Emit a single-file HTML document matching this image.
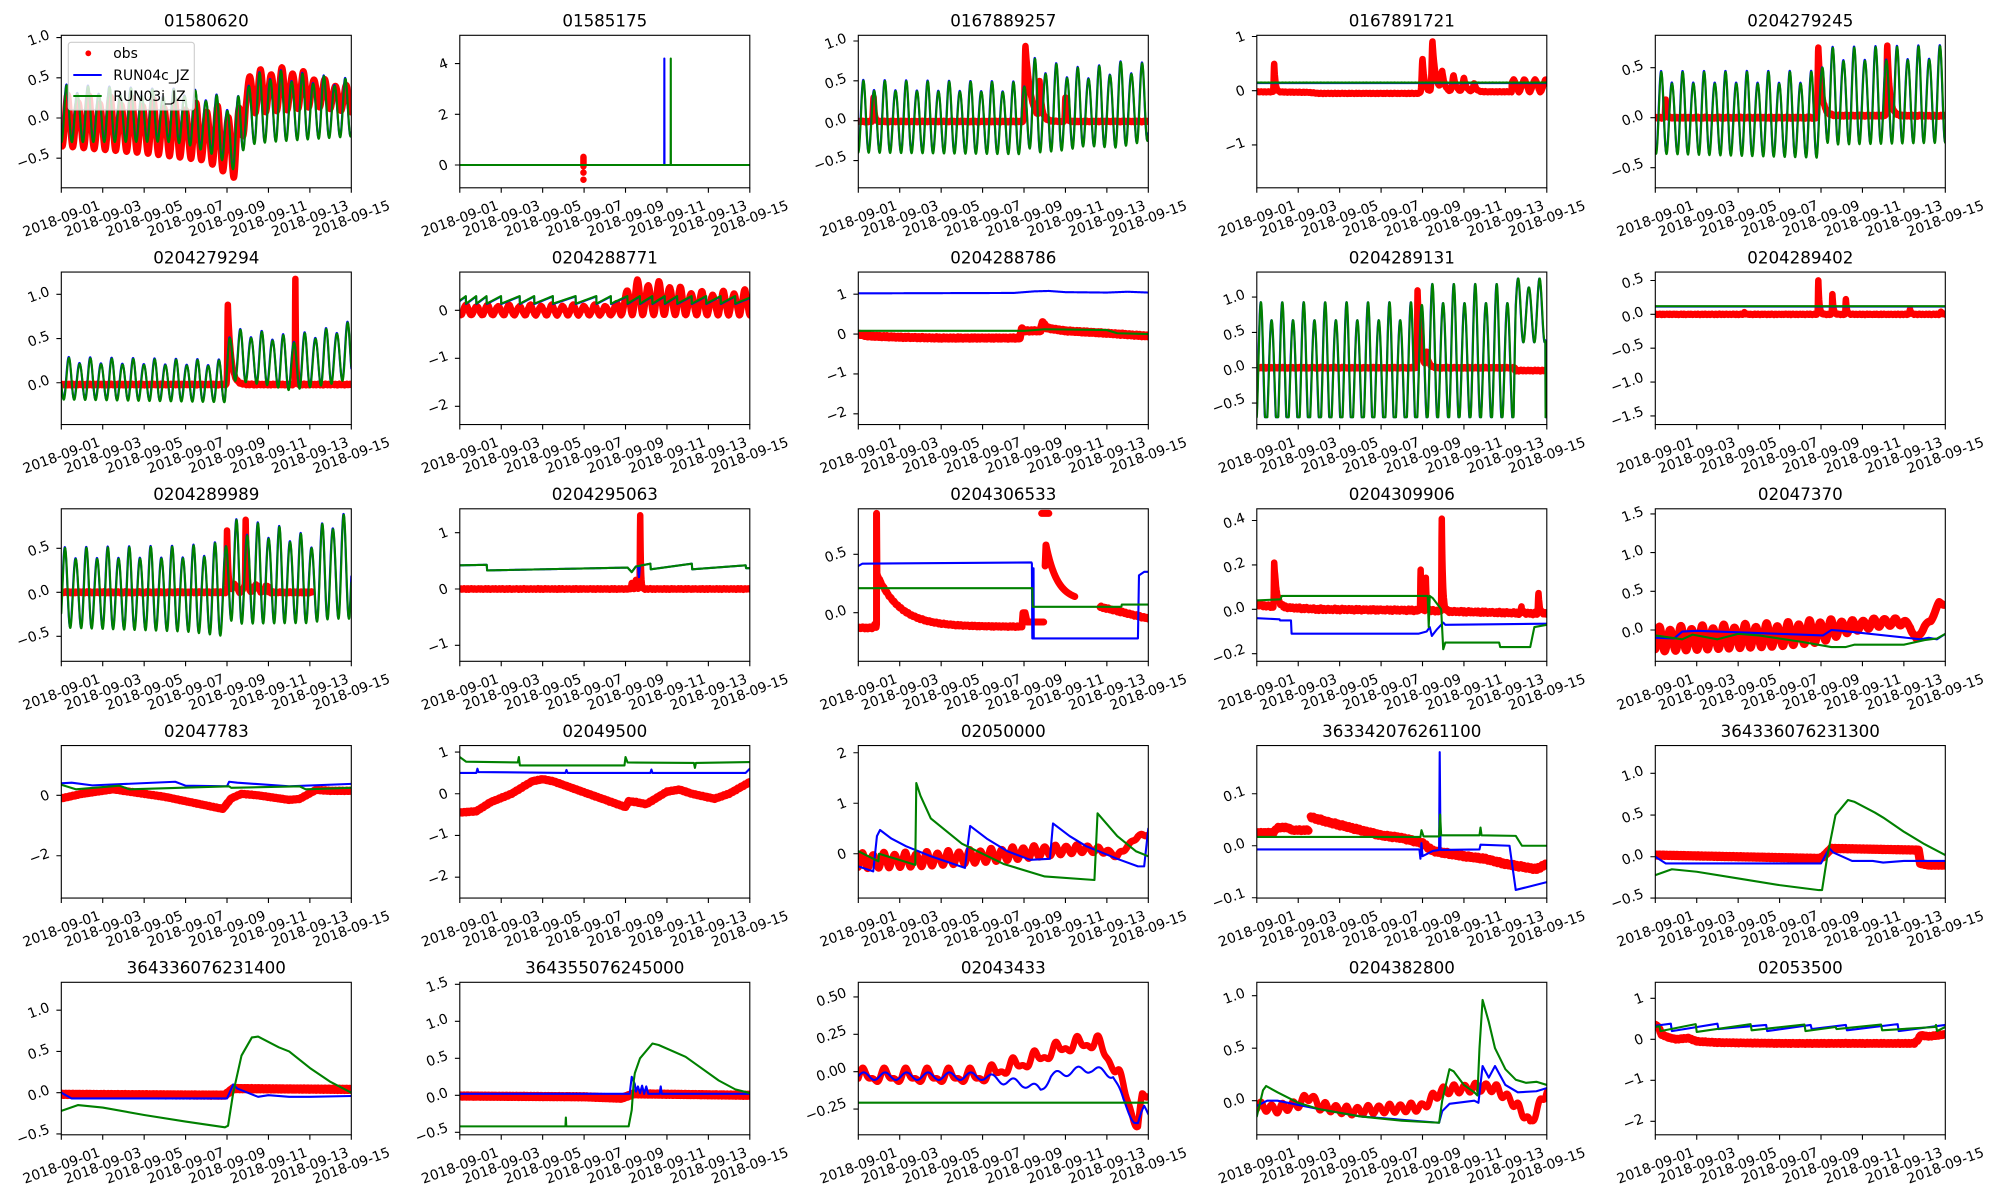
<!DOCTYPE html>
<html><head><meta charset="utf-8">
<style>
body{margin:0;background:#fff}
svg{display:block}
text{font-family:"DejaVu Sans","Liberation Sans",sans-serif;font-size:13.9px;fill:#000}
.xl text{text-anchor:middle}
.yl text{text-anchor:end}
text.ti{font-size:16.7px;text-anchor:middle}
.sp{fill:none;stroke:#000;stroke-width:1.1}
.tk{stroke:#000;stroke-width:1.1;fill:none}
</style></head><body>
<svg xmlns="http://www.w3.org/2000/svg" width="2000" height="1200" viewBox="0 0 2000 1200">
<defs><clipPath id="c"><rect x="0" y="0" width="290" height="152.5"/></clipPath></defs>
<rect width="2000" height="1200" fill="#fff"/>

<!-- Row 1 -->
<g transform="translate(61.3,35.3)"><g clip-path="url(#c)" id="d1"></g><rect class="sp" width="290" height="152.5"/><path class="tk" d="M0,152.5v4.9M41.43,152.5v4.9M82.86,152.5v4.9M124.29,152.5v4.9M165.71,152.5v4.9M207.14,152.5v4.9M248.57,152.5v4.9M290,152.5v4.9M0,2.3h-4.9M0,42.5h-4.9M0,82.7h-4.9M0,122.9h-4.9"/><g class="xl"><text transform="translate(0,183) rotate(-20)" y="4.9">2018-09-01</text><text transform="translate(41.43,183) rotate(-20)" y="4.9">2018-09-03</text><text transform="translate(82.86,183) rotate(-20)" y="4.9">2018-09-05</text><text transform="translate(124.29,183) rotate(-20)" y="4.9">2018-09-07</text><text transform="translate(165.71,183) rotate(-20)" y="4.9">2018-09-09</text><text transform="translate(207.14,183) rotate(-20)" y="4.9">2018-09-11</text><text transform="translate(248.57,183) rotate(-20)" y="4.9">2018-09-13</text><text transform="translate(290,183) rotate(-20)" y="4.9">2018-09-15</text></g><g class="yl"><text transform="translate(-10.8,3.2) rotate(-20)">1.0</text><text transform="translate(-10.8,43.4) rotate(-20)">0.5</text><text transform="translate(-10.8,83.6) rotate(-20)">0.0</text><text transform="translate(-10.8,121.8) rotate(-20)">−0.5</text></g><text class="ti" x="145" y="-8.6">01580620</text>
<g><rect x="7" y="7" width="126" height="67.7" rx="2.8" fill="#fff" fill-opacity="0.8" stroke="#cccccc" stroke-width="1.1"/><circle cx="27" cy="18" r="2.9" fill="#ff0000"/><text x="52" y="22.9">obs</text><path d="M12,39.7h28.4" stroke="#0000ff" stroke-width="2.1"/><text x="52" y="44.6">RUN04c_JZ</text><path d="M12,60.7h28.4" stroke="#008000" stroke-width="2.1"/><text x="52" y="65.6">RUN03i_JZ</text></g></g>

<g transform="translate(459.8,35.3)"><g clip-path="url(#c)" id="d2"></g><rect class="sp" width="290" height="152.5"/><path class="tk" d="M0,152.5v4.9M41.43,152.5v4.9M82.86,152.5v4.9M124.29,152.5v4.9M165.71,152.5v4.9M207.14,152.5v4.9M248.57,152.5v4.9M290,152.5v4.9M0,28.3h-4.9M0,79h-4.9M0,129.7h-4.9"/><g class="xl"><text transform="translate(0,183) rotate(-20)" y="4.9">2018-09-01</text><text transform="translate(41.43,183) rotate(-20)" y="4.9">2018-09-03</text><text transform="translate(82.86,183) rotate(-20)" y="4.9">2018-09-05</text><text transform="translate(124.29,183) rotate(-20)" y="4.9">2018-09-07</text><text transform="translate(165.71,183) rotate(-20)" y="4.9">2018-09-09</text><text transform="translate(207.14,183) rotate(-20)" y="4.9">2018-09-11</text><text transform="translate(248.57,183) rotate(-20)" y="4.9">2018-09-13</text><text transform="translate(290,183) rotate(-20)" y="4.9">2018-09-15</text></g><g class="yl"><text transform="translate(-10.8,31.5) rotate(-20)">4</text><text transform="translate(-10.8,82.2) rotate(-20)">2</text><text transform="translate(-10.8,132.9) rotate(-20)">0</text></g><text class="ti" x="145" y="-8.6">01585175</text></g>

<g transform="translate(858.3,35.3)"><g clip-path="url(#c)" id="d3"></g><rect class="sp" width="290" height="152.5"/><path class="tk" d="M0,152.5v4.9M41.43,152.5v4.9M82.86,152.5v4.9M124.29,152.5v4.9M165.71,152.5v4.9M207.14,152.5v4.9M248.57,152.5v4.9M290,152.5v4.9M0,5.7h-4.9M0,45.55h-4.9M0,85.4h-4.9M0,125.25h-4.9"/><g class="xl"><text transform="translate(0,183) rotate(-20)" y="4.9">2018-09-01</text><text transform="translate(41.43,183) rotate(-20)" y="4.9">2018-09-03</text><text transform="translate(82.86,183) rotate(-20)" y="4.9">2018-09-05</text><text transform="translate(124.29,183) rotate(-20)" y="4.9">2018-09-07</text><text transform="translate(165.71,183) rotate(-20)" y="4.9">2018-09-09</text><text transform="translate(207.14,183) rotate(-20)" y="4.9">2018-09-11</text><text transform="translate(248.57,183) rotate(-20)" y="4.9">2018-09-13</text><text transform="translate(290,183) rotate(-20)" y="4.9">2018-09-15</text></g><g class="yl"><text transform="translate(-10.8,6.6) rotate(-20)">1.0</text><text transform="translate(-10.8,46.45) rotate(-20)">0.5</text><text transform="translate(-10.8,86.3) rotate(-20)">0.0</text><text transform="translate(-10.8,124.15) rotate(-20)">−0.5</text></g><text class="ti" x="145" y="-8.6">0167889257</text></g>

<g transform="translate(1256.8,35.3)"><g clip-path="url(#c)" id="d4"></g><rect class="sp" width="290" height="152.5"/><path class="tk" d="M0,152.5v4.9M41.43,152.5v4.9M82.86,152.5v4.9M124.29,152.5v4.9M165.71,152.5v4.9M207.14,152.5v4.9M248.57,152.5v4.9M290,152.5v4.9M0,1.2h-4.9M0,55.4h-4.9M0,109.6h-4.9"/><g class="xl"><text transform="translate(0,183) rotate(-20)" y="4.9">2018-09-01</text><text transform="translate(41.43,183) rotate(-20)" y="4.9">2018-09-03</text><text transform="translate(82.86,183) rotate(-20)" y="4.9">2018-09-05</text><text transform="translate(124.29,183) rotate(-20)" y="4.9">2018-09-07</text><text transform="translate(165.71,183) rotate(-20)" y="4.9">2018-09-09</text><text transform="translate(207.14,183) rotate(-20)" y="4.9">2018-09-11</text><text transform="translate(248.57,183) rotate(-20)" y="4.9">2018-09-13</text><text transform="translate(290,183) rotate(-20)" y="4.9">2018-09-15</text></g><g class="yl"><text transform="translate(-10.8,4.4) rotate(-20)">1</text><text transform="translate(-10.8,58.6) rotate(-20)">0</text><text transform="translate(-10.8,110.8) rotate(-20)">−1</text></g><text class="ti" x="145" y="-8.6">0167891721</text></g>

<g transform="translate(1655.3,35.3)"><g clip-path="url(#c)" id="d5"></g><rect class="sp" width="290" height="152.5"/><path class="tk" d="M0,152.5v4.9M41.43,152.5v4.9M82.86,152.5v4.9M124.29,152.5v4.9M165.71,152.5v4.9M207.14,152.5v4.9M248.57,152.5v4.9M290,152.5v4.9M0,32.4h-4.9M0,82.4h-4.9M0,132.4h-4.9"/><g class="xl"><text transform="translate(0,183) rotate(-20)" y="4.9">2018-09-01</text><text transform="translate(41.43,183) rotate(-20)" y="4.9">2018-09-03</text><text transform="translate(82.86,183) rotate(-20)" y="4.9">2018-09-05</text><text transform="translate(124.29,183) rotate(-20)" y="4.9">2018-09-07</text><text transform="translate(165.71,183) rotate(-20)" y="4.9">2018-09-09</text><text transform="translate(207.14,183) rotate(-20)" y="4.9">2018-09-11</text><text transform="translate(248.57,183) rotate(-20)" y="4.9">2018-09-13</text><text transform="translate(290,183) rotate(-20)" y="4.9">2018-09-15</text></g><g class="yl"><text transform="translate(-10.8,33.3) rotate(-20)">0.5</text><text transform="translate(-10.8,83.3) rotate(-20)">0.0</text><text transform="translate(-10.8,131.3) rotate(-20)">−0.5</text></g><text class="ti" x="145" y="-8.6">0204279245</text></g>

<!-- Row 2 -->
<g transform="translate(61.3,272.05)"><g clip-path="url(#c)" id="d6"></g><rect class="sp" width="290" height="152.5"/><path class="tk" d="M0,152.5v4.9M41.43,152.5v4.9M82.86,152.5v4.9M124.29,152.5v4.9M165.71,152.5v4.9M207.14,152.5v4.9M248.57,152.5v4.9M290,152.5v4.9M0,22.3h-4.9M0,66.5h-4.9M0,110.7h-4.9"/><g class="xl"><text transform="translate(0,183) rotate(-20)" y="4.9">2018-09-01</text><text transform="translate(41.43,183) rotate(-20)" y="4.9">2018-09-03</text><text transform="translate(82.86,183) rotate(-20)" y="4.9">2018-09-05</text><text transform="translate(124.29,183) rotate(-20)" y="4.9">2018-09-07</text><text transform="translate(165.71,183) rotate(-20)" y="4.9">2018-09-09</text><text transform="translate(207.14,183) rotate(-20)" y="4.9">2018-09-11</text><text transform="translate(248.57,183) rotate(-20)" y="4.9">2018-09-13</text><text transform="translate(290,183) rotate(-20)" y="4.9">2018-09-15</text></g><g class="yl"><text transform="translate(-10.8,23.2) rotate(-20)">1.0</text><text transform="translate(-10.8,67.4) rotate(-20)">0.5</text><text transform="translate(-10.8,111.6) rotate(-20)">0.0</text></g><text class="ti" x="145" y="-8.6">0204279294</text></g>

<g transform="translate(459.8,272.05)"><g clip-path="url(#c)" id="d7"></g><rect class="sp" width="290" height="152.5"/><path class="tk" d="M0,152.5v4.9M41.43,152.5v4.9M82.86,152.5v4.9M124.29,152.5v4.9M165.71,152.5v4.9M207.14,152.5v4.9M248.57,152.5v4.9M290,152.5v4.9M0,38.3h-4.9M0,86.3h-4.9M0,134.3h-4.9"/><g class="xl"><text transform="translate(0,183) rotate(-20)" y="4.9">2018-09-01</text><text transform="translate(41.43,183) rotate(-20)" y="4.9">2018-09-03</text><text transform="translate(82.86,183) rotate(-20)" y="4.9">2018-09-05</text><text transform="translate(124.29,183) rotate(-20)" y="4.9">2018-09-07</text><text transform="translate(165.71,183) rotate(-20)" y="4.9">2018-09-09</text><text transform="translate(207.14,183) rotate(-20)" y="4.9">2018-09-11</text><text transform="translate(248.57,183) rotate(-20)" y="4.9">2018-09-13</text><text transform="translate(290,183) rotate(-20)" y="4.9">2018-09-15</text></g><g class="yl"><text transform="translate(-10.8,41.5) rotate(-20)">0</text><text transform="translate(-10.8,87.5) rotate(-20)">−1</text><text transform="translate(-10.8,135.5) rotate(-20)">−2</text></g><text class="ti" x="145" y="-8.6">0204288771</text></g>

<g transform="translate(858.3,272.05)"><g clip-path="url(#c)" id="d8"></g><rect class="sp" width="290" height="152.5"/><path class="tk" d="M0,152.5v4.9M41.43,152.5v4.9M82.86,152.5v4.9M124.29,152.5v4.9M165.71,152.5v4.9M207.14,152.5v4.9M248.57,152.5v4.9M290,152.5v4.9M0,22.1h-4.9M0,62h-4.9M0,101.9h-4.9M0,141.8h-4.9"/><g class="xl"><text transform="translate(0,183) rotate(-20)" y="4.9">2018-09-01</text><text transform="translate(41.43,183) rotate(-20)" y="4.9">2018-09-03</text><text transform="translate(82.86,183) rotate(-20)" y="4.9">2018-09-05</text><text transform="translate(124.29,183) rotate(-20)" y="4.9">2018-09-07</text><text transform="translate(165.71,183) rotate(-20)" y="4.9">2018-09-09</text><text transform="translate(207.14,183) rotate(-20)" y="4.9">2018-09-11</text><text transform="translate(248.57,183) rotate(-20)" y="4.9">2018-09-13</text><text transform="translate(290,183) rotate(-20)" y="4.9">2018-09-15</text></g><g class="yl"><text transform="translate(-10.8,25.3) rotate(-20)">1</text><text transform="translate(-10.8,65.2) rotate(-20)">0</text><text transform="translate(-10.8,103.1) rotate(-20)">−1</text><text transform="translate(-10.8,143) rotate(-20)">−2</text></g><text class="ti" x="145" y="-8.6">0204288786</text></g>

<g transform="translate(1256.8,272.05)"><g clip-path="url(#c)" id="d9"></g><rect class="sp" width="290" height="152.5"/><path class="tk" d="M0,152.5v4.9M41.43,152.5v4.9M82.86,152.5v4.9M124.29,152.5v4.9M165.71,152.5v4.9M207.14,152.5v4.9M248.57,152.5v4.9M290,152.5v4.9M0,25h-4.9M0,60.35h-4.9M0,95.7h-4.9M0,131.05h-4.9"/><g class="xl"><text transform="translate(0,183) rotate(-20)" y="4.9">2018-09-01</text><text transform="translate(41.43,183) rotate(-20)" y="4.9">2018-09-03</text><text transform="translate(82.86,183) rotate(-20)" y="4.9">2018-09-05</text><text transform="translate(124.29,183) rotate(-20)" y="4.9">2018-09-07</text><text transform="translate(165.71,183) rotate(-20)" y="4.9">2018-09-09</text><text transform="translate(207.14,183) rotate(-20)" y="4.9">2018-09-11</text><text transform="translate(248.57,183) rotate(-20)" y="4.9">2018-09-13</text><text transform="translate(290,183) rotate(-20)" y="4.9">2018-09-15</text></g><g class="yl"><text transform="translate(-10.8,25.9) rotate(-20)">1.0</text><text transform="translate(-10.8,61.25) rotate(-20)">0.5</text><text transform="translate(-10.8,96.6) rotate(-20)">0.0</text><text transform="translate(-10.8,129.95) rotate(-20)">−0.5</text></g><text class="ti" x="145" y="-8.6">0204289131</text></g>

<g transform="translate(1655.3,272.05)"><g clip-path="url(#c)" id="d10"></g><rect class="sp" width="290" height="152.5"/><path class="tk" d="M0,152.5v4.9M41.43,152.5v4.9M82.86,152.5v4.9M124.29,152.5v4.9M165.71,152.5v4.9M207.14,152.5v4.9M248.57,152.5v4.9M290,152.5v4.9M0,8.45h-4.9M0,42.3h-4.9M0,76.15h-4.9M0,110h-4.9M0,143.85h-4.9"/><g class="xl"><text transform="translate(0,183) rotate(-20)" y="4.9">2018-09-01</text><text transform="translate(41.43,183) rotate(-20)" y="4.9">2018-09-03</text><text transform="translate(82.86,183) rotate(-20)" y="4.9">2018-09-05</text><text transform="translate(124.29,183) rotate(-20)" y="4.9">2018-09-07</text><text transform="translate(165.71,183) rotate(-20)" y="4.9">2018-09-09</text><text transform="translate(207.14,183) rotate(-20)" y="4.9">2018-09-11</text><text transform="translate(248.57,183) rotate(-20)" y="4.9">2018-09-13</text><text transform="translate(290,183) rotate(-20)" y="4.9">2018-09-15</text></g><g class="yl"><text transform="translate(-10.8,9.35) rotate(-20)">0.5</text><text transform="translate(-10.8,43.2) rotate(-20)">0.0</text><text transform="translate(-10.8,75.05) rotate(-20)">−0.5</text><text transform="translate(-10.8,108.9) rotate(-20)">−1.0</text><text transform="translate(-10.8,142.75) rotate(-20)">−1.5</text></g><text class="ti" x="145" y="-8.6">0204289402</text></g>

<!-- Row 3 -->
<g transform="translate(61.3,508.8)"><g clip-path="url(#c)" id="d11"></g><rect class="sp" width="290" height="152.5"/><path class="tk" d="M0,152.5v4.9M41.43,152.5v4.9M82.86,152.5v4.9M124.29,152.5v4.9M165.71,152.5v4.9M207.14,152.5v4.9M248.57,152.5v4.9M290,152.5v4.9M0,39.5h-4.9M0,83.5h-4.9M0,127.5h-4.9"/><g class="xl"><text transform="translate(0,183) rotate(-20)" y="4.9">2018-09-01</text><text transform="translate(41.43,183) rotate(-20)" y="4.9">2018-09-03</text><text transform="translate(82.86,183) rotate(-20)" y="4.9">2018-09-05</text><text transform="translate(124.29,183) rotate(-20)" y="4.9">2018-09-07</text><text transform="translate(165.71,183) rotate(-20)" y="4.9">2018-09-09</text><text transform="translate(207.14,183) rotate(-20)" y="4.9">2018-09-11</text><text transform="translate(248.57,183) rotate(-20)" y="4.9">2018-09-13</text><text transform="translate(290,183) rotate(-20)" y="4.9">2018-09-15</text></g><g class="yl"><text transform="translate(-10.8,40.4) rotate(-20)">0.5</text><text transform="translate(-10.8,84.4) rotate(-20)">0.0</text><text transform="translate(-10.8,126.4) rotate(-20)">−0.5</text></g><text class="ti" x="145" y="-8.6">0204289989</text></g>

<g transform="translate(459.8,508.8)"><g clip-path="url(#c)" id="d12"></g><rect class="sp" width="290" height="152.5"/><path class="tk" d="M0,152.5v4.9M41.43,152.5v4.9M82.86,152.5v4.9M124.29,152.5v4.9M165.71,152.5v4.9M207.14,152.5v4.9M248.57,152.5v4.9M290,152.5v4.9M0,23.9h-4.9M0,80.2h-4.9M0,136.5h-4.9"/><g class="xl"><text transform="translate(0,183) rotate(-20)" y="4.9">2018-09-01</text><text transform="translate(41.43,183) rotate(-20)" y="4.9">2018-09-03</text><text transform="translate(82.86,183) rotate(-20)" y="4.9">2018-09-05</text><text transform="translate(124.29,183) rotate(-20)" y="4.9">2018-09-07</text><text transform="translate(165.71,183) rotate(-20)" y="4.9">2018-09-09</text><text transform="translate(207.14,183) rotate(-20)" y="4.9">2018-09-11</text><text transform="translate(248.57,183) rotate(-20)" y="4.9">2018-09-13</text><text transform="translate(290,183) rotate(-20)" y="4.9">2018-09-15</text></g><g class="yl"><text transform="translate(-10.8,27.1) rotate(-20)">1</text><text transform="translate(-10.8,83.4) rotate(-20)">0</text><text transform="translate(-10.8,137.7) rotate(-20)">−1</text></g><text class="ti" x="145" y="-8.6">0204295063</text></g>

<g transform="translate(858.3,508.8)"><g clip-path="url(#c)" id="d13"></g><rect class="sp" width="290" height="152.5"/><path class="tk" d="M0,152.5v4.9M41.43,152.5v4.9M82.86,152.5v4.9M124.29,152.5v4.9M165.71,152.5v4.9M207.14,152.5v4.9M248.57,152.5v4.9M290,152.5v4.9M0,45.5h-4.9M0,103.9h-4.9"/><g class="xl"><text transform="translate(0,183) rotate(-20)" y="4.9">2018-09-01</text><text transform="translate(41.43,183) rotate(-20)" y="4.9">2018-09-03</text><text transform="translate(82.86,183) rotate(-20)" y="4.9">2018-09-05</text><text transform="translate(124.29,183) rotate(-20)" y="4.9">2018-09-07</text><text transform="translate(165.71,183) rotate(-20)" y="4.9">2018-09-09</text><text transform="translate(207.14,183) rotate(-20)" y="4.9">2018-09-11</text><text transform="translate(248.57,183) rotate(-20)" y="4.9">2018-09-13</text><text transform="translate(290,183) rotate(-20)" y="4.9">2018-09-15</text></g><g class="yl"><text transform="translate(-10.8,46.4) rotate(-20)">0.5</text><text transform="translate(-10.8,104.8) rotate(-20)">0.0</text></g><text class="ti" x="145" y="-8.6">0204306533</text></g>

<g transform="translate(1256.8,508.8)"><g clip-path="url(#c)" id="d14"></g><rect class="sp" width="290" height="152.5"/><path class="tk" d="M0,152.5v4.9M41.43,152.5v4.9M82.86,152.5v4.9M124.29,152.5v4.9M165.71,152.5v4.9M207.14,152.5v4.9M248.57,152.5v4.9M290,152.5v4.9M0,11.7h-4.9M0,56.1h-4.9M0,100.5h-4.9M0,144.9h-4.9"/><g class="xl"><text transform="translate(0,183) rotate(-20)" y="4.9">2018-09-01</text><text transform="translate(41.43,183) rotate(-20)" y="4.9">2018-09-03</text><text transform="translate(82.86,183) rotate(-20)" y="4.9">2018-09-05</text><text transform="translate(124.29,183) rotate(-20)" y="4.9">2018-09-07</text><text transform="translate(165.71,183) rotate(-20)" y="4.9">2018-09-09</text><text transform="translate(207.14,183) rotate(-20)" y="4.9">2018-09-11</text><text transform="translate(248.57,183) rotate(-20)" y="4.9">2018-09-13</text><text transform="translate(290,183) rotate(-20)" y="4.9">2018-09-15</text></g><g class="yl"><text transform="translate(-10.8,12.6) rotate(-20)">0.4</text><text transform="translate(-10.8,57) rotate(-20)">0.2</text><text transform="translate(-10.8,101.4) rotate(-20)">0.0</text><text transform="translate(-10.8,143.8) rotate(-20)">−0.2</text></g><text class="ti" x="145" y="-8.6">0204309906</text></g>

<g transform="translate(1655.3,508.8)"><g clip-path="url(#c)" id="d15"></g><rect class="sp" width="290" height="152.5"/><path class="tk" d="M0,152.5v4.9M41.43,152.5v4.9M82.86,152.5v4.9M124.29,152.5v4.9M165.71,152.5v4.9M207.14,152.5v4.9M248.57,152.5v4.9M290,152.5v4.9M0,5.1h-4.9M0,43.8h-4.9M0,82.5h-4.9M0,121.2h-4.9"/><g class="xl"><text transform="translate(0,183) rotate(-20)" y="4.9">2018-09-01</text><text transform="translate(41.43,183) rotate(-20)" y="4.9">2018-09-03</text><text transform="translate(82.86,183) rotate(-20)" y="4.9">2018-09-05</text><text transform="translate(124.29,183) rotate(-20)" y="4.9">2018-09-07</text><text transform="translate(165.71,183) rotate(-20)" y="4.9">2018-09-09</text><text transform="translate(207.14,183) rotate(-20)" y="4.9">2018-09-11</text><text transform="translate(248.57,183) rotate(-20)" y="4.9">2018-09-13</text><text transform="translate(290,183) rotate(-20)" y="4.9">2018-09-15</text></g><g class="yl"><text transform="translate(-10.8,6) rotate(-20)">1.5</text><text transform="translate(-10.8,44.7) rotate(-20)">1.0</text><text transform="translate(-10.8,83.4) rotate(-20)">0.5</text><text transform="translate(-10.8,122.1) rotate(-20)">0.0</text></g><text class="ti" x="145" y="-8.6">02047370</text></g>

<!-- Row 4 -->
<g transform="translate(61.3,745.55)"><g clip-path="url(#c)" id="d16"></g><rect class="sp" width="290" height="152.5"/><path class="tk" d="M0,152.5v4.9M41.43,152.5v4.9M82.86,152.5v4.9M124.29,152.5v4.9M165.71,152.5v4.9M207.14,152.5v4.9M248.57,152.5v4.9M290,152.5v4.9M0,49.8h-4.9M0,110.2h-4.9"/><g class="xl"><text transform="translate(0,183) rotate(-20)" y="4.9">2018-09-01</text><text transform="translate(41.43,183) rotate(-20)" y="4.9">2018-09-03</text><text transform="translate(82.86,183) rotate(-20)" y="4.9">2018-09-05</text><text transform="translate(124.29,183) rotate(-20)" y="4.9">2018-09-07</text><text transform="translate(165.71,183) rotate(-20)" y="4.9">2018-09-09</text><text transform="translate(207.14,183) rotate(-20)" y="4.9">2018-09-11</text><text transform="translate(248.57,183) rotate(-20)" y="4.9">2018-09-13</text><text transform="translate(290,183) rotate(-20)" y="4.9">2018-09-15</text></g><g class="yl"><text transform="translate(-10.8,53) rotate(-20)">0</text><text transform="translate(-10.8,111.4) rotate(-20)">−2</text></g><text class="ti" x="145" y="-8.6">02047783</text></g>

<g transform="translate(459.8,745.55)"><g clip-path="url(#c)" id="d17"></g><rect class="sp" width="290" height="152.5"/><path class="tk" d="M0,152.5v4.9M41.43,152.5v4.9M82.86,152.5v4.9M124.29,152.5v4.9M165.71,152.5v4.9M207.14,152.5v4.9M248.57,152.5v4.9M290,152.5v4.9M0,6.5h-4.9M0,48.2h-4.9M0,89.9h-4.9M0,131.6h-4.9"/><g class="xl"><text transform="translate(0,183) rotate(-20)" y="4.9">2018-09-01</text><text transform="translate(41.43,183) rotate(-20)" y="4.9">2018-09-03</text><text transform="translate(82.86,183) rotate(-20)" y="4.9">2018-09-05</text><text transform="translate(124.29,183) rotate(-20)" y="4.9">2018-09-07</text><text transform="translate(165.71,183) rotate(-20)" y="4.9">2018-09-09</text><text transform="translate(207.14,183) rotate(-20)" y="4.9">2018-09-11</text><text transform="translate(248.57,183) rotate(-20)" y="4.9">2018-09-13</text><text transform="translate(290,183) rotate(-20)" y="4.9">2018-09-15</text></g><g class="yl"><text transform="translate(-10.8,9.7) rotate(-20)">1</text><text transform="translate(-10.8,51.4) rotate(-20)">0</text><text transform="translate(-10.8,91.1) rotate(-20)">−1</text><text transform="translate(-10.8,132.8) rotate(-20)">−2</text></g><text class="ti" x="145" y="-8.6">02049500</text></g>

<g transform="translate(858.3,745.55)"><g clip-path="url(#c)" id="d18"></g><rect class="sp" width="290" height="152.5"/><path class="tk" d="M0,152.5v4.9M41.43,152.5v4.9M82.86,152.5v4.9M124.29,152.5v4.9M165.71,152.5v4.9M207.14,152.5v4.9M248.57,152.5v4.9M290,152.5v4.9M0,7.2h-4.9M0,57.7h-4.9M0,108.2h-4.9"/><g class="xl"><text transform="translate(0,183) rotate(-20)" y="4.9">2018-09-01</text><text transform="translate(41.43,183) rotate(-20)" y="4.9">2018-09-03</text><text transform="translate(82.86,183) rotate(-20)" y="4.9">2018-09-05</text><text transform="translate(124.29,183) rotate(-20)" y="4.9">2018-09-07</text><text transform="translate(165.71,183) rotate(-20)" y="4.9">2018-09-09</text><text transform="translate(207.14,183) rotate(-20)" y="4.9">2018-09-11</text><text transform="translate(248.57,183) rotate(-20)" y="4.9">2018-09-13</text><text transform="translate(290,183) rotate(-20)" y="4.9">2018-09-15</text></g><g class="yl"><text transform="translate(-10.8,10.4) rotate(-20)">2</text><text transform="translate(-10.8,60.9) rotate(-20)">1</text><text transform="translate(-10.8,111.4) rotate(-20)">0</text></g><text class="ti" x="145" y="-8.6">02050000</text></g>

<g transform="translate(1256.8,745.55)"><g clip-path="url(#c)" id="d19"></g><rect class="sp" width="290" height="152.5"/><path class="tk" d="M0,152.5v4.9M41.43,152.5v4.9M82.86,152.5v4.9M124.29,152.5v4.9M165.71,152.5v4.9M207.14,152.5v4.9M248.57,152.5v4.9M290,152.5v4.9M0,48.2h-4.9M0,100.2h-4.9M0,152.2h-4.9"/><g class="xl"><text transform="translate(0,183) rotate(-20)" y="4.9">2018-09-01</text><text transform="translate(41.43,183) rotate(-20)" y="4.9">2018-09-03</text><text transform="translate(82.86,183) rotate(-20)" y="4.9">2018-09-05</text><text transform="translate(124.29,183) rotate(-20)" y="4.9">2018-09-07</text><text transform="translate(165.71,183) rotate(-20)" y="4.9">2018-09-09</text><text transform="translate(207.14,183) rotate(-20)" y="4.9">2018-09-11</text><text transform="translate(248.57,183) rotate(-20)" y="4.9">2018-09-13</text><text transform="translate(290,183) rotate(-20)" y="4.9">2018-09-15</text></g><g class="yl"><text transform="translate(-10.8,49.1) rotate(-20)">0.1</text><text transform="translate(-10.8,101.1) rotate(-20)">0.0</text><text transform="translate(-10.8,151.1) rotate(-20)">−0.1</text></g><text class="ti" x="145" y="-8.6">363342076261100</text></g>

<g transform="translate(1655.3,745.55)"><g clip-path="url(#c)" id="d20"></g><rect class="sp" width="290" height="152.5"/><path class="tk" d="M0,152.5v4.9M41.43,152.5v4.9M82.86,152.5v4.9M124.29,152.5v4.9M165.71,152.5v4.9M207.14,152.5v4.9M248.57,152.5v4.9M290,152.5v4.9M0,27.8h-4.9M0,69.5h-4.9M0,111.2h-4.9M0,152.5h-4.9"/><g class="xl"><text transform="translate(0,183) rotate(-20)" y="4.9">2018-09-01</text><text transform="translate(41.43,183) rotate(-20)" y="4.9">2018-09-03</text><text transform="translate(82.86,183) rotate(-20)" y="4.9">2018-09-05</text><text transform="translate(124.29,183) rotate(-20)" y="4.9">2018-09-07</text><text transform="translate(165.71,183) rotate(-20)" y="4.9">2018-09-09</text><text transform="translate(207.14,183) rotate(-20)" y="4.9">2018-09-11</text><text transform="translate(248.57,183) rotate(-20)" y="4.9">2018-09-13</text><text transform="translate(290,183) rotate(-20)" y="4.9">2018-09-15</text></g><g class="yl"><text transform="translate(-10.8,28.7) rotate(-20)">1.0</text><text transform="translate(-10.8,70.4) rotate(-20)">0.5</text><text transform="translate(-10.8,112.1) rotate(-20)">0.0</text><text transform="translate(-10.8,151.8) rotate(-20)">−0.5</text></g><text class="ti" x="145" y="-8.6">364336076231300</text></g>

<!-- Row 5 -->
<g transform="translate(61.3,982.3)"><g clip-path="url(#c)" id="d21"></g><rect class="sp" width="290" height="152.5"/><path class="tk" d="M0,152.5v4.9M41.43,152.5v4.9M82.86,152.5v4.9M124.29,152.5v4.9M165.71,152.5v4.9M207.14,152.5v4.9M248.57,152.5v4.9M290,152.5v4.9M0,27.9h-4.9M0,69.15h-4.9M0,110.4h-4.9M0,151.65h-4.9"/><g class="xl"><text transform="translate(0,183) rotate(-20)" y="4.9">2018-09-01</text><text transform="translate(41.43,183) rotate(-20)" y="4.9">2018-09-03</text><text transform="translate(82.86,183) rotate(-20)" y="4.9">2018-09-05</text><text transform="translate(124.29,183) rotate(-20)" y="4.9">2018-09-07</text><text transform="translate(165.71,183) rotate(-20)" y="4.9">2018-09-09</text><text transform="translate(207.14,183) rotate(-20)" y="4.9">2018-09-11</text><text transform="translate(248.57,183) rotate(-20)" y="4.9">2018-09-13</text><text transform="translate(290,183) rotate(-20)" y="4.9">2018-09-15</text></g><g class="yl"><text transform="translate(-10.8,28.8) rotate(-20)">1.0</text><text transform="translate(-10.8,70.05) rotate(-20)">0.5</text><text transform="translate(-10.8,111.3) rotate(-20)">0.0</text><text transform="translate(-10.8,150.55) rotate(-20)">−0.5</text></g><text class="ti" x="145" y="-8.6">364336076231400</text></g>

<g transform="translate(459.8,982.3)"><g clip-path="url(#c)" id="d22"></g><rect class="sp" width="290" height="152.5"/><path class="tk" d="M0,152.5v4.9M41.43,152.5v4.9M82.86,152.5v4.9M124.29,152.5v4.9M165.71,152.5v4.9M207.14,152.5v4.9M248.57,152.5v4.9M290,152.5v4.9M0,2h-4.9M0,39h-4.9M0,76h-4.9M0,113h-4.9M0,150h-4.9"/><g class="xl"><text transform="translate(0,183) rotate(-20)" y="4.9">2018-09-01</text><text transform="translate(41.43,183) rotate(-20)" y="4.9">2018-09-03</text><text transform="translate(82.86,183) rotate(-20)" y="4.9">2018-09-05</text><text transform="translate(124.29,183) rotate(-20)" y="4.9">2018-09-07</text><text transform="translate(165.71,183) rotate(-20)" y="4.9">2018-09-09</text><text transform="translate(207.14,183) rotate(-20)" y="4.9">2018-09-11</text><text transform="translate(248.57,183) rotate(-20)" y="4.9">2018-09-13</text><text transform="translate(290,183) rotate(-20)" y="4.9">2018-09-15</text></g><g class="yl"><text transform="translate(-10.8,2.9) rotate(-20)">1.5</text><text transform="translate(-10.8,39.9) rotate(-20)">1.0</text><text transform="translate(-10.8,76.9) rotate(-20)">0.5</text><text transform="translate(-10.8,113.9) rotate(-20)">0.0</text><text transform="translate(-10.8,148.9) rotate(-20)">−0.5</text></g><text class="ti" x="145" y="-8.6">364355076245000</text></g>

<g transform="translate(858.3,982.3)"><g clip-path="url(#c)" id="d23"></g><rect class="sp" width="290" height="152.5"/><path class="tk" d="M0,152.5v4.9M41.43,152.5v4.9M82.86,152.5v4.9M124.29,152.5v4.9M165.71,152.5v4.9M207.14,152.5v4.9M248.57,152.5v4.9M290,152.5v4.9M0,14.6h-4.9M0,52h-4.9M0,89.4h-4.9M0,126.8h-4.9"/><g class="xl"><text transform="translate(0,183) rotate(-20)" y="4.9">2018-09-01</text><text transform="translate(41.43,183) rotate(-20)" y="4.9">2018-09-03</text><text transform="translate(82.86,183) rotate(-20)" y="4.9">2018-09-05</text><text transform="translate(124.29,183) rotate(-20)" y="4.9">2018-09-07</text><text transform="translate(165.71,183) rotate(-20)" y="4.9">2018-09-09</text><text transform="translate(207.14,183) rotate(-20)" y="4.9">2018-09-11</text><text transform="translate(248.57,183) rotate(-20)" y="4.9">2018-09-13</text><text transform="translate(290,183) rotate(-20)" y="4.9">2018-09-15</text></g><g class="yl"><text transform="translate(-10.8,14) rotate(-20)">0.50</text><text transform="translate(-10.8,51.4) rotate(-20)">0.25</text><text transform="translate(-10.8,88.8) rotate(-20)">0.00</text><text transform="translate(-10.8,124.2) rotate(-20)">−0.25</text></g><text class="ti" x="145" y="-8.6">02043433</text></g>

<g transform="translate(1256.8,982.3)"><g clip-path="url(#c)" id="d24"></g><rect class="sp" width="290" height="152.5"/><path class="tk" d="M0,152.5v4.9M41.43,152.5v4.9M82.86,152.5v4.9M124.29,152.5v4.9M165.71,152.5v4.9M207.14,152.5v4.9M248.57,152.5v4.9M290,152.5v4.9M0,13.4h-4.9M0,65.9h-4.9M0,118.4h-4.9"/><g class="xl"><text transform="translate(0,183) rotate(-20)" y="4.9">2018-09-01</text><text transform="translate(41.43,183) rotate(-20)" y="4.9">2018-09-03</text><text transform="translate(82.86,183) rotate(-20)" y="4.9">2018-09-05</text><text transform="translate(124.29,183) rotate(-20)" y="4.9">2018-09-07</text><text transform="translate(165.71,183) rotate(-20)" y="4.9">2018-09-09</text><text transform="translate(207.14,183) rotate(-20)" y="4.9">2018-09-11</text><text transform="translate(248.57,183) rotate(-20)" y="4.9">2018-09-13</text><text transform="translate(290,183) rotate(-20)" y="4.9">2018-09-15</text></g><g class="yl"><text transform="translate(-10.8,14.3) rotate(-20)">1.0</text><text transform="translate(-10.8,66.8) rotate(-20)">0.5</text><text transform="translate(-10.8,119.3) rotate(-20)">0.0</text></g><text class="ti" x="145" y="-8.6">0204382800</text></g>

<g transform="translate(1655.3,982.3)"><g clip-path="url(#c)" id="d25"></g><rect class="sp" width="290" height="152.5"/><path class="tk" d="M0,152.5v4.9M41.43,152.5v4.9M82.86,152.5v4.9M124.29,152.5v4.9M165.71,152.5v4.9M207.14,152.5v4.9M248.57,152.5v4.9M290,152.5v4.9M0,16h-4.9M0,57h-4.9M0,98h-4.9M0,139h-4.9"/><g class="xl"><text transform="translate(0,183) rotate(-20)" y="4.9">2018-09-01</text><text transform="translate(41.43,183) rotate(-20)" y="4.9">2018-09-03</text><text transform="translate(82.86,183) rotate(-20)" y="4.9">2018-09-05</text><text transform="translate(124.29,183) rotate(-20)" y="4.9">2018-09-07</text><text transform="translate(165.71,183) rotate(-20)" y="4.9">2018-09-09</text><text transform="translate(207.14,183) rotate(-20)" y="4.9">2018-09-11</text><text transform="translate(248.57,183) rotate(-20)" y="4.9">2018-09-13</text><text transform="translate(290,183) rotate(-20)" y="4.9">2018-09-15</text></g><g class="yl"><text transform="translate(-10.8,19.2) rotate(-20)">1</text><text transform="translate(-10.8,60.2) rotate(-20)">0</text><text transform="translate(-10.8,99.2) rotate(-20)">−1</text><text transform="translate(-10.8,140.2) rotate(-20)">−2</text></g><text class="ti" x="145" y="-8.6">02053500</text></g>
</svg>
<script>
(function(){
var NS='http://www.w3.org/2000/svg',W=290,TP=0.5175;
function X(t){return (t/14*W).toFixed(2);}
function pw(p,t){if(t<=p[0][0])return p[0][1];for(var i=1;i<p.length;i++){if(t<=p[i][0]){var a=p[i-1],b=p[i];return b[0]===a[0]?b[1]:a[1]+(b[1]-a[1])*(t-a[0])/(b[0]-a[0]);}}return p[p.length-1][1];}
function td(t,tp){var w=2*Math.PI*(t-tp)/TP;return Math.cos(w)*(1+0.15*Math.cos(w/2));}
function nz(t){return 0.5*Math.sin(t*37.1)+0.3*Math.sin(t*91.7+1)+0.2*Math.sin(t*213.3+2);}
function sp(t,tc,h,r,dc){return t<tc?h*Math.exp(-Math.pow((tc-t)/r,2)):h*Math.exp(-(t-tc)/dc);}
function sm(f,t0,t1,n){if(t0===undefined)t0=0;if(t1===undefined)t1=14;n=n||Math.max(2,Math.round((t1-t0)*100));var a=[];for(var i=0;i<=n;i++){var t=t0+(t1-t0)*i/n;a.push([t,f(t)]);}return a;}
function saw(t,dr,lo,hi){for(var i=1;i<dr.length;i++){if(t<dr[i]){var f=(t-dr[i-1])/(dr[i]-dr[i-1]);return lo+(hi-lo)*f;}}return hi;}
function D(pts,y0,s){var str='',pen=false;for(var k=0;k<pts.length;k++){var q=pts[k];if(q===null||q[1]===null||isNaN(q[1])){pen=false;continue;}str+=(pen?'L':'M')+X(q[0])+','+(y0-q[1]*s).toFixed(2);pen=true;}return str;}
function add(g,d,c,w){if(!d)return;var p=document.createElementNS(NS,'path');p.setAttribute('d',d);p.setAttribute('fill','none');p.setAttribute('stroke',c);p.setAttribute('stroke-width',w);p.setAttribute('stroke-linejoin','round');p.setAttribute('stroke-linecap','round');g.appendChild(p);}
var P={};
var m1=function(t){return pw([[0,0.03],[6,0.0],[7.5,-0.12],[8.35,-0.28],[8.9,0.05],[10,0.12],[14,0.1]],t);},a1=function(t){return pw([[0,0.33],[5,0.3],[8,0.36],[10,0.42],[14,0.33]],t);};
P[1]=[82.7,80.4,sm(function(t){return pw([[0,-0.05],[4,-0.12],[7,-0.2],[8.35,-0.35],[8.7,-0.2],[8.9,0.3],[11,0.35],[12,0.33],[14,0.22]],t)+pw([[0,0.3],[7,0.33],[8.3,0.4],[8.9,0.25],[11,0.25],[12.5,0.17],[14,0.15]],t)*td(t,0.3);}),sm(function(t){return m1(t)+a1(t)*td(t,0.25)+0.01;}),sm(function(t){return m1(t)+a1(t)*td(t,0.26);})];
P[2]=[129.7,25.35,[[5.97,0.32],[5.97,-0.05],null,[5.97,-0.3],[5.97,-0.3],null,[5.97,-0.58],[5.97,-0.58]],[[0,0],[9.87,0],[9.875,4.2],[9.88,0],[14,0]],[[0,0],[10.18,0],[10.185,4.2],[10.19,0],[14,0]]];
var m3=function(t){return pw([[0,0.02],[7.8,0.0],[8.3,0.15],[10,0.12],[12,0.15],[14,0.2]],t);},a3=function(t){return pw([[0,0.42],[8,0.42],[8.5,0.55],[11,0.45],[12.5,0.5],[14,0.45]],t);};
P[3]=[85.4,79.7,sm(function(t){return -0.01+0.01*nz(t)+sp(t,0.74,0.3,0.04,0.05)+sp(t,8.07,0.95,0.05,0.25)+sp(t,8.75,0.45,0.04,0.1)+sp(t,10.0,0.3,0.03,0.05);}),sm(function(t){return m3(t)+a3(t)*td(t,0.24)+0.01;}),sm(function(t){return m3(t)+a3(t)*td(t,0.25);})];
P[4]=[55.4,54.2,sm(function(t){return pw([[0,-0.02],[2.5,-0.03],[3,-0.05],[7.8,-0.05],[8,-0.02],[14,-0.02]],t)+0.01*nz(t)+sp(t,0.84,0.52,0.03,0.06)+sp(t,8.0,0.6,0.05,0.1)+sp(t,8.48,0.92,0.05,0.15)+sp(t,8.95,0.35,0.08,0.12)+sp(t,9.5,0.3,0.08,0.12)+sp(t,10.0,0.25,0.08,0.12)+sp(t,10.5,0.15,0.08,0.1)+(t>12.3?0.11*(1+Math.cos(2*Math.PI*(t-12.4)/TP)):0);}),[[0,0.14],[14,0.14]],sm(function(t){return 0.15+0.003*nz(t);})];
var m5=function(t){return pw([[0,0.02],[7.8,0.0],[8.1,0.18],[14,0.2]],t);},a5=function(t){return pw([[0,0.38],[8,0.4],[8.5,0.45],[14,0.45]],t);};
P[5]=[82.4,100,sm(function(t){return 0.01*nz(t)+sp(t,0.5,0.18,0.03,0.05)+sp(t,7.87,0.7,0.04,0.15)+(t>8?0.02:0)+sp(t,11.2,0.7,0.04,0.12);}),sm(function(t){return m5(t)+a5(t)*td(t,0.28)+0.01;}),sm(function(t){return m5(t)+a5(t)*td(t,0.29);})];
var m6=function(t){return pw([[0,0.03],[7.9,0.0],[8.1,0.3],[10,0.25],[11,0.2],[13,0.28],[14,0.35]],t);},a6=function(t){return pw([[0,0.22],[8,0.22],[8.3,0.27],[14,0.3]],t);};
P[6]=[110.7,88.4,sm(function(t){return -0.02+0.01*nz(t)+sp(t,8.04,0.9,0.03,0.15)+sp(t,11.3,1.2,0.02,0.03);}),sm(function(t){return m6(t)+a6(t)*td(t,0.36)+0.01;}),sm(function(t){return m6(t)+a6(t)*td(t,0.37);})];
var dr7=[-0.2,0.3,0.8,1.3,2.0,2.9,3.6,4.5,5.6,6.6,7.3,8.1,8.7,9.3,9.9,10.5,11.2,11.9,12.6,13.3,14.2];
P[7]=[38.3,48,sm(function(t){return -0.1+pw([[0,0.2],[7.5,0.2],[8.3,0.7],[10,0.65],[11,0.5],[12,0.45],[14,0.5]],t)*(1+td(t,0.3))/2+0.01*nz(t);}),sm(function(t){return saw(t,dr7,0.13,0.29);}),sm(function(t){return saw(t,dr7,0.14,0.3);})];
P[8]=[62,39.9,sm(function(t){return pw([[0,0.0],[0.5,-0.05],[2,-0.08],[4,-0.1],[7.8,-0.1],[7.9,0.15],[8.0,0.08],[8.8,0.08],[8.9,0.3],[9.1,0.15],[10,0.08],[12,0.02],[14,-0.05]],t)+0.02*nz(t);}),sm(function(t){return pw([[0,1.02],[7.5,1.03],[8.5,1.07],[9.2,1.08],[10,1.05],[12,1.04],[13,1.06],[14,1.04]],t);}),[[0,0.08],[8,0.08],[9,0.12],[12,0.1],[12.5,0.02],[14,0.0]],8];
var m9=function(t){return pw([[0,-0.05],[7.7,-0.05],[8,0.15],[12.4,0.15],[12.5,0.78],[14,0.78]],t);},a9=function(t){return pw([[0,0.85],[7.7,0.85],[8,0.9],[12.4,0.9],[12.5,0.42],[14,0.42]],t);};
var f9=function(t,tp){if(t>13.93)return -0.7;var v=m9(t)+a9(t)*td(t,tp);if(t<12.47)v=Math.max(v,-0.7);return v;};
P[9]=[95.7,70.7,sm(function(t){return (t<12.47?0.0:-0.04)+0.012*nz(t)+sp(t,7.76,1.1,0.02,0.12)+sp(t,8.2,0.2,0.05,0.1);}),sm(function(t){return f9(t,0.19);}),sm(function(t){return f9(t,0.2);})];
P[10]=[42.3,67.7,sm(function(t){return 0.01*nz(t)+sp(t,7.87,0.5,0.02,0.05)+sp(t,8.55,0.3,0.02,0.05)+sp(t,9.2,0.22,0.02,0.05)+sp(t,12.3,0.08,0.03,0.05)+sp(t,4.3,0.03,0.03,0.05)+sp(t,13.8,0.04,0.03,0.05);}),[[0,0.115],[14,0.115]],[[0,0.12],[14,0.12]]];
var m11=function(t){return pw([[0,0.02],[7.8,0.0],[8.1,0.2],[11,0.15],[12,0.1],[13,0.25],[14,0.25]],t);},a11=function(t){return pw([[0,0.42],[6,0.45],[8,0.5],[8.5,0.55],[11,0.5],[12,0.45],[13,0.55],[14,0.55]],t);};
P[11]=[83.5,88,sm(function(t){return 0.012*nz(t)+sp(t,8.0,0.7,0.02,0.06)+sp(t,8.9,0.75,0.02,0.05)+((t>8&&t<10)?0.08*(1+td(t,0.1))/2:0);},0,12.1),sm(function(t){return m11(t)+a11(t)*td(t,0.17)+0.01;}),sm(function(t){return m11(t)+a11(t)*td(t,0.18);})];
var g12=[[0,0.42],[1.3,0.43],[1.32,0.33],[8.1,0.38],[8.3,0.3],[8.5,0.4],[9.2,0.45],[9.22,0.35],[11.2,0.45],[11.22,0.35],[13.8,0.42],[13.82,0.37],[14,0.37]];
P[12]=[80.2,56.3,sm(function(t){return 0.015*nz(t)+sp(t,8.3,0.1,0.03,0.05)+sp(t,8.5,0.15,0.03,0.05)+sp(t,8.71,1.3,0.02,0.03);}),sm(function(t){return pw(g12,t)-0.2*Math.exp(-Math.pow((t-8.65)/0.03,2));}),g12];
P[13]=[103.9,116.8,[].concat(sm(function(t){return -0.13+0.01*nz(t)+sp(t,0.8,0.04,0.03,0.03);},0,0.86),[[0.88,-0.1],[0.88,0.85],[0.9,0.33]],sm(function(t){return -0.12+0.45*Math.exp(-(t-0.9)/1.1)+0.008*nz(t);},0.9,7.9),[[7.95,0.0],[8.05,0.0],[8.15,-0.08],[8.95,-0.08],null,[8.85,0.85],[9.2,0.85],null,[9.02,0.4]],sm(function(t){return 0.1+0.48*Math.exp(-(t-9.06)/0.55);},9.06,10.45),[null],sm(function(t){return 0.05-0.1*(t-11.67)/2.33+0.01*nz(t);},11.67,14)),
[[0,0.4],[0.2,0.42],[8.36,0.43],[8.38,0.42],[8.4,-0.22],[8.42,-0.22],[8.43,0.38],[8.46,0.38],[8.47,-0.22],[13.5,-0.22],[13.55,0.32],[13.8,0.35],[14,0.35]],
[[0,0.21],[8.4,0.21],[8.42,0.05],[12.7,0.05],[12.72,0.07],[14,0.07]],7];
P[14]=[100.5,222,sm(function(t){return pw([[0,0.02],[1,0.01],[3,0.0],[8,-0.005],[9.5,-0.01],[14,-0.02]],t)+0.008*nz(t)+sp(t,0.84,0.2,0.02,0.12)+sp(t,7.91,0.19,0.02,0.04)+sp(t,8.16,0.14,0.02,0.04)+sp(t,8.93,0.42,0.02,0.05)+sp(t,12.78,0.03,0.03,0.05)+sp(t,13.6,0.09,0.03,0.06);}),
[[0,-0.04],[1.1,-0.045],[1.12,-0.05],[1.65,-0.05],[1.68,-0.11],[7.8,-0.11],[8.2,-0.1],[8.35,-0.08],[8.45,-0.12],[8.7,-0.09],[9.0,-0.06],[9.1,-0.07],[14,-0.065]],
[[0,0.04],[1.15,0.045],[1.2,0.06],[8.25,0.06],[8.3,-0.08],[8.35,0.06],[8.5,0.05],[8.9,0.0],[9.0,-0.18],[9.1,-0.15],[11.7,-0.15],[11.75,-0.17],[13.2,-0.17],[13.4,-0.08],[14,-0.07]]];
P[15]=[121.2,77.4,sm(function(t){return pw([[0,-0.13],[6,-0.07],[8,-0.02],[9,0.03],[11,0.1],[12,0.1],[12.3,0.05],[12.6,-0.13],[13,0.05],[13.3,0.12],[13.7,0.35],[14,0.33]],t)+pw([[0,0.15],[8,0.14],[9.5,0.07],[11,0.05],[12,0.04],[12.5,0.02],[14,0.01]],t)*td(t,0.2);}),
[[0,-0.1],[0.9,-0.11],[1.3,-0.02],[2,-0.01],[4,-0.03],[8.1,-0.07],[8.5,0.0],[9,-0.01],[12.8,-0.12],[13.2,-0.1],[13.6,-0.12],[14,-0.05]],
[[0,-0.07],[1.3,-0.12],[1.8,-0.06],[3,-0.12],[4,-0.05],[5,-0.07],[7,-0.15],[8.5,-0.22],[9.2,-0.22],[9.6,-0.19],[12,-0.19],[13,-0.13],[13.6,-0.11],[14,-0.05]],8];
P[16]=[49.8,30.2,sm(function(t){return pw([[0,-0.1],[1,0.05],[2.5,0.2],[3,0.15],[5,-0.05],[7.8,-0.45],[8.2,-0.1],[8.7,0.05],[9.5,0.0],[11,-0.15],[11.5,-0.12],[12.3,0.18],[13,0.15],[14,0.15]],t)+0.01*nz(t);}),
[[0,0.4],[0.5,0.42],[1.5,0.33],[5.5,0.45],[6,0.32],[8,0.3],[8.1,0.45],[8.5,0.42],[11,0.3],[14,0.38]],
[[0,0.35],[0.7,0.2],[2.8,0.32],[3.3,0.2],[8.1,0.3],[8.2,0.25],[11.5,0.3],[11.8,0.2],[14,0.25]],8];
P[17]=[48.2,41.7,sm(function(t){return pw([[0,-0.45],[0.8,-0.42],[1.5,-0.2],[2.5,0.0],[3.5,0.3],[4,0.35],[4.5,0.3],[8,-0.32],[8.15,-0.18],[8.5,-0.2],[9,-0.25],[10,0.05],[10.6,0.1],[11.2,0.0],[12.3,-0.12],[13,0.0],[14,0.28]],t)+0.01*nz(t);}),
[[0,0.5],[0.8,0.5],[0.85,0.6],[0.9,0.52],[5.1,0.5],[5.15,0.57],[5.2,0.5],[9.2,0.5],[9.25,0.58],[9.3,0.5],[13.8,0.5],[14,0.6]],
[[0,0.88],[0.3,0.77],[2.8,0.75],[2.85,0.88],[2.9,0.68],[7.95,0.68],[8.0,0.88],[8.1,0.75],[11.3,0.74],[11.35,0.62],[11.4,0.74],[14,0.76]],8];
P[18]=[108.2,50.5,sm(function(t){return pw([[0,-0.15],[3,-0.12],[6,-0.05],[9,0.05],[11,0.1],[12,0.05],[12.5,-0.05],[13.5,0.35],[14,0.38]],t)+pw([[0,0.15],[8,0.12],[11,0.07],[12.5,0.03],[14,0.02]],t)*td(t,0.2);}),
[[0,-0.25],[0.72,-0.35],[0.9,0.35],[1.05,0.47],[1.6,0.3],[2.3,0.15],[3.5,-0.05],[5.15,-0.28],[5.4,0.55],[6.2,0.3],[7.2,0.05],[8.3,-0.12],[9.25,-0.1],[9.4,0.6],[10.2,0.35],[11,0.15],[12.5,-0.1],[13.5,-0.25],[13.8,-0.25],[14,0.5]],
[[0,0.05],[0.97,-0.15],[1.0,0.0],[1.8,-0.1],[2.75,-0.22],[2.8,1.4],[3.0,1.15],[3.5,0.7],[5,0.2],[7,-0.2],[9,-0.45],[11.4,-0.52],[11.55,0.8],[12.5,0.35],[13.4,0.05],[14,-0.05]],7];
P[19]=[100.2,520,[].concat(sm(function(t){return pw([[0,0.025],[0.8,0.025],[1,0.035],[1.5,0.035],[1.7,0.03],[2.5,0.03]],t)+0.002*nz(t);},0,2.5),[null],sm(function(t){return pw([[2.6,0.055],[3.5,0.045],[4.5,0.035],[6,0.02],[7,0.015],[8,0.005],[8.5,-0.01],[10,-0.02],[11,-0.025],[12,-0.035],[13.5,-0.045],[14,-0.035]],t)+0.003*nz(t);},2.6,14)),
[[0,-0.007],[7.85,-0.007],[7.9,-0.025],[7.95,0.005],[8.0,-0.02],[8.5,-0.01],[8.8,-0.008],[8.83,0.18],[8.87,-0.008],[10.75,-0.007],[10.8,0.002],[12.2,0.0],[12.5,-0.085],[13,-0.08],[14,-0.07]],
[[0,0.017],[7.9,0.017],[7.95,0.03],[8.05,0.018],[8.8,0.018],[8.85,0.06],[8.9,0.02],[10.75,0.02],[10.8,0.035],[10.85,0.02],[12.5,0.019],[12.8,0.0],[14,0.0]],8];
P[20]=[111.2,83.4,sm(function(t){return pw([[0,0.02],[4,0.0],[7.9,-0.02],[8.1,0.0],[8.5,0.1],[12.7,0.08],[12.8,-0.08],[13.2,-0.1],[14,-0.1]],t)+0.003*nz(t);}),
[[0,0.0],[0.5,-0.08],[8.0,-0.08],[8.4,0.1],[8.6,0.05],[9.5,-0.05],[10.5,-0.05],[11,-0.07],[12,-0.05],[14,-0.05]],
[[0,-0.22],[0.8,-0.15],[2,-0.18],[4,-0.26],[6,-0.34],[7.9,-0.4],[8.05,-0.4],[8.3,0.0],[8.7,0.5],[9.3,0.68],[9.6,0.66],[10.6,0.53],[11,0.47],[12,0.3],[13,0.15],[14,0.02]],9];
P[21]=[110.4,82.5,sm(function(t){return pw([[0,-0.02],[7.9,-0.03],[8.3,0.05],[14,0.04]],t)+0.003*nz(t);}),
[[0,0.0],[0.5,-0.07],[8.0,-0.07],[8.3,0.1],[8.5,0.05],[9.5,-0.05],[10,-0.03],[11,-0.05],[12,-0.05],[14,-0.04]],
[[0,-0.22],[0.8,-0.15],[2,-0.18],[4,-0.27],[6,-0.35],[7.9,-0.42],[8.05,-0.4],[8.3,0.0],[8.7,0.45],[9.2,0.67],[9.5,0.68],[10.5,0.55],[11,0.5],[12,0.3],[13,0.13],[14,0.0]],9];
P[22]=[113,74,sm(function(t){return pw([[0,-0.01],[6,-0.02],[7.8,-0.04],[8.2,0.0],[8.4,0.02],[14,0.0]],t)+0.003*nz(t);}),
[[0,0.02],[8.2,0.02],[8.3,0.25],[8.45,0.15],[8.5,0.05],[8.6,0.12],[8.7,0.03],[8.8,0.13],[8.9,0.02],[9.0,0.12],[9.1,0.02],[9.65,0.02],[9.7,0.12],[9.75,0.02],[14,0.02]],
[[0,-0.42],[5.1,-0.42],[5.12,-0.3],[5.14,-0.42],[8.15,-0.42],[8.3,-0.2],[8.4,0.2],[8.45,0.3],[8.7,0.5],[9.3,0.7],[9.6,0.68],[10.9,0.52],[11.5,0.4],[12.5,0.2],[13.3,0.08],[14,0.03]],9];
P[23]=[89.4,149.6,sm(function(t){return pw([[0,-0.03],[6,-0.03],[7,0.02],[8,0.06],[8.8,0.1],[10,0.17],[11.5,0.2],[12.3,0.05],[12.8,-0.1],[13.3,-0.3],[13.5,-0.37],[13.7,-0.2],[14,-0.15]],t)+0.035*Math.sin(2*Math.PI*t/1.035)+0.02*td(t,0.2);}),
sm(function(t){return pw([[0,-0.03],[6,-0.03],[7,-0.06],[8,-0.08],[8.8,-0.12],[9.3,-0.03],[10.2,0.0],[11.2,0.02],[12.3,-0.02],[12.8,-0.2],[13.3,-0.32],[13.5,-0.35],[13.8,-0.25],[14,-0.28]],t)+0.025*Math.sin(2*Math.PI*t/1.035);}),
[[0,-0.207],[14,-0.207]]];
P[24]=[118.4,105,sm(function(t){return pw([[0,-0.05],[1,-0.08],[2,-0.03],[2.6,0.05],[3,-0.05],[4.5,-0.1],[6,-0.08],[8,-0.06],[8.5,0.03],[9,0.1],[11,0.13],[11.5,0.12],[12.3,0.0],[13,-0.15],[13.2,-0.22],[13.5,-0.1],[14,0.1]],t)+0.04*td(t,0.2);}),
[[0,-0.05],[0.5,0.0],[1,0.0],[3,-0.08],[5,-0.15],[8.8,-0.21],[8.95,-0.1],[9.3,-0.03],[10.5,0.0],[10.7,-0.02],[10.9,0.33],[11.2,0.22],[11.5,0.33],[12,0.15],[12.6,0.08],[13.5,0.09],[14,0.12]],
[[0,-0.15],[0.3,0.1],[0.45,0.14],[1,0.08],[2,-0.02],[3,-0.08],[5,-0.15],[7,-0.19],[8.8,-0.21],[8.95,0.0],[9.3,0.3],[9.5,0.28],[10,0.15],[10.5,0.08],[10.65,0.05],[10.75,0.5],[10.9,0.96],[11.2,0.75],[11.5,0.5],[12,0.3],[12.5,0.2],[13,0.17],[13.5,0.18],[14,0.15]]];
P[25]=[57,41,sm(function(t){return pw([[0,0.35],[0.15,0.3],[0.3,0.12],[0.6,0.05],[1,0.0],[1.6,0.03],[2,-0.05],[3,-0.08],[6,-0.1],[12.5,-0.1],[12.7,0.0],[12.8,0.1],[13.2,0.07],[14,0.12]],t)+0.015*nz(t);}),
[[0,0.33],[0.75,0.38],[0.8,0.2],[3.0,0.38],[3.05,0.25],[5.35,0.35],[5.4,0.2],[7.5,0.35],[7.55,0.25],[9.2,0.35],[9.25,0.22],[11.7,0.37],[11.75,0.2],[14,0.35]],
[[0,0.3],[0.2,0.32],[0.25,0.2],[1.95,0.37],[2.0,0.18],[4.6,0.37],[4.65,0.22],[7.2,0.36],[7.25,0.2],[8.7,0.3],[8.75,0.25],[10.9,0.36],[10.95,0.22],[13.5,0.3],[13.55,0.35],[13.6,0.2],[14,0.3]],8];
for(var i=1;i<=25;i++){var g=document.getElementById('d'+i),p=P[i];if(!g||!p)continue;
add(g,D(p[2],p[0],p[1]),'#ff0000',p[5]||6.5);
add(g,D(p[3],p[0],p[1]),'#0000ff',2.1);
add(g,D(p[4],p[0],p[1]),'#008000',2.1);}
})();
</script>
</body></html>
